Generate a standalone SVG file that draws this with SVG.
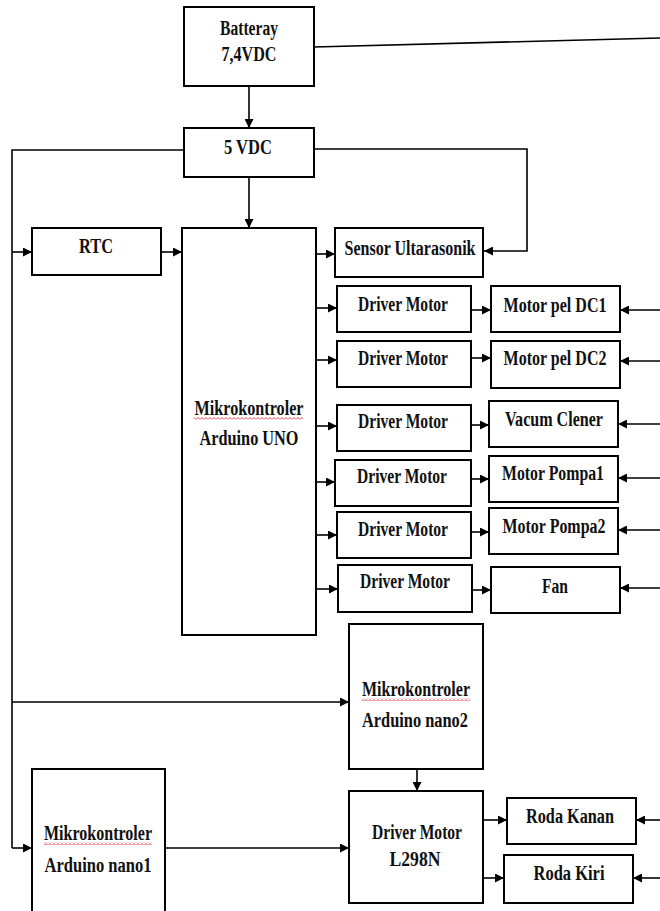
<svg xmlns="http://www.w3.org/2000/svg" width="660" height="911" viewBox="0 0 660 911">
<style>
.box{fill:#fff;stroke:#000;stroke-width:2}
.t{font-family:"Liberation Serif","Times New Roman",serif;font-weight:bold;font-size:20px;fill:#111;text-anchor:middle}
.c{fill:none;stroke:#000;stroke-width:1.6}
.a{fill:none;stroke:#000;stroke-width:1.6;marker-end:url(#ah)}
.wv{fill:url(#wave)}
</style>
<defs>
<marker id="ah" markerUnits="userSpaceOnUse" markerWidth="9" markerHeight="9" refX="9" refY="4.5" orient="auto">
<path d="M0,0 L9,4.5 L0,9 z" fill="#000"/>
</marker>
<pattern id="wave" patternUnits="userSpaceOnUse" width="4" height="3">
<path d="M0,2.5 L2,0.5 L4,2.5" fill="none" stroke="#e02020" stroke-width="0.9"/>
</pattern>
</defs>
<rect width="660" height="911" fill="#fff"/>
<g id="connectors">
<path class="c" d="M314,47 L660,38"/>
<path class="a" d="M249,86 L249,128"/>
<path class="a" d="M249,177 L249,228"/>
<path class="c" d="M184,150 L12,150 L12,848"/>
<path class="a" d="M314,149 L527,149 L527,251 L484,251"/>
<path class="a" d="M12,252 L32,252"/>
<path class="a" d="M161,252 L182,252"/>
<path class="a" d="M316,254 L335,254"/>
<path class="a" d="M316,308 L337,308"/>
<path class="a" d="M316,360 L337,360"/>
<path class="a" d="M316,426 L337,426"/>
<path class="a" d="M316,482 L335,482"/>
<path class="a" d="M316,535 L337,535"/>
<path class="a" d="M316,589 L338,589"/>
<path class="a" d="M471,310 L491,310"/>
<path class="a" d="M471,358 L491,358"/>
<path class="a" d="M471,425 L489,425"/>
<path class="a" d="M471,479 L489,479"/>
<path class="a" d="M471,532 L489,532"/>
<path class="a" d="M472,590 L491,590"/>
<path class="a" d="M660,310 L620,310"/>
<path class="a" d="M660,361 L620,361"/>
<path class="a" d="M660,424 L618,424"/>
<path class="a" d="M660,478 L618,478"/>
<path class="a" d="M660,530 L618,530"/>
<path class="a" d="M660,588 L620,588"/>
<path class="a" d="M12,702 L349,702"/>
<path class="a" d="M12,848 L32,848"/>
<path class="a" d="M165,848 L349,848"/>
<path class="a" d="M417,769 L417,791"/>
<path class="a" d="M483,820 L507,820"/>
<path class="a" d="M483,878 L504,878"/>
<path class="a" d="M660,820 L636,820"/>
<path class="a" d="M660,878 L633,878"/>
</g>
<g id="batteray"><rect class="box" x="184" y="7" width="130" height="79"/>
<text class="t" x="249" y="35" textLength="58" lengthAdjust="spacingAndGlyphs">Batteray</text>
<text class="t" x="249" y="61" textLength="55" lengthAdjust="spacingAndGlyphs">7,4VDC</text></g>
<g id="vdc5"><rect class="box" x="184" y="128" width="130" height="49"/>
<text class="t" x="248" y="154" textLength="48" lengthAdjust="spacingAndGlyphs">5 VDC</text></g>
<g id="rtc"><rect class="box" x="32" y="228" width="129" height="47"/>
<text class="t" x="96" y="253" textLength="34" lengthAdjust="spacingAndGlyphs">RTC</text></g>
<g id="uno"><rect class="box" x="182" y="228" width="134" height="407"/>
<text class="t" x="249" y="415" textLength="109" lengthAdjust="spacingAndGlyphs">Mikrokontroler</text>
<rect class="wv" x="194" y="417" width="109" height="3"/>
<text class="t" x="249" y="445" textLength="99" lengthAdjust="spacingAndGlyphs">Arduino UNO</text></g>
<g id="sensor"><rect class="box" x="335" y="228" width="148" height="49"/>
<text class="t" x="410" y="255" textLength="131" lengthAdjust="spacingAndGlyphs">Sensor Ultarasonik</text></g>
<g id="drv1"><rect class="box" x="337" y="286" width="134" height="46"/>
<text class="t" x="403" y="311" textLength="90" lengthAdjust="spacingAndGlyphs">Driver Motor</text></g>
<g id="drv2"><rect class="box" x="337" y="341" width="134" height="46"/>
<text class="t" x="403" y="365" textLength="90" lengthAdjust="spacingAndGlyphs">Driver Motor</text></g>
<g id="drv3"><rect class="box" x="337" y="405" width="134" height="46"/>
<text class="t" x="403" y="428" textLength="90" lengthAdjust="spacingAndGlyphs">Driver Motor</text></g>
<g id="drv4"><rect class="box" x="335" y="460" width="136" height="46"/>
<text class="t" x="402" y="483" textLength="90" lengthAdjust="spacingAndGlyphs">Driver Motor</text></g>
<g id="drv5"><rect class="box" x="337" y="512" width="134" height="46"/>
<text class="t" x="403" y="536" textLength="90" lengthAdjust="spacingAndGlyphs">Driver Motor</text></g>
<g id="drv6"><rect class="box" x="338" y="565" width="134" height="47"/>
<text class="t" x="405" y="588" textLength="90" lengthAdjust="spacingAndGlyphs">Driver Motor</text></g>
<g id="dc1"><rect class="box" x="491" y="286" width="129" height="46"/>
<text class="t" x="555" y="312" textLength="103" lengthAdjust="spacingAndGlyphs">Motor pel DC1</text></g>
<g id="dc2"><rect class="box" x="491" y="341" width="129" height="47"/>
<text class="t" x="555" y="365" textLength="103" lengthAdjust="spacingAndGlyphs">Motor pel DC2</text></g>
<g id="vacum"><rect class="box" x="489" y="401" width="129" height="46"/>
<text class="t" x="554" y="426" textLength="98" lengthAdjust="spacingAndGlyphs">Vacum Clener</text></g>
<g id="pompa1"><rect class="box" x="489" y="456" width="129" height="46"/>
<text class="t" x="553" y="480" textLength="102" lengthAdjust="spacingAndGlyphs">Motor Pompa1</text></g>
<g id="pompa2"><rect class="box" x="489" y="508" width="129" height="46"/>
<text class="t" x="554" y="533" textLength="103" lengthAdjust="spacingAndGlyphs">Motor Pompa2</text></g>
<g id="fan"><rect class="box" x="491" y="567" width="129" height="46"/>
<text class="t" x="555" y="593" textLength="26" lengthAdjust="spacingAndGlyphs">Fan</text></g>
<g id="nano2"><rect class="box" x="349" y="624" width="134" height="145"/>
<text class="t" x="416" y="696" textLength="108" lengthAdjust="spacingAndGlyphs">Mikrokontroler</text>
<rect class="wv" x="362" y="698" width="108" height="3"/>
<text class="t" x="415" y="727" textLength="106" lengthAdjust="spacingAndGlyphs">Arduino nano2</text></g>
<g id="nano1"><rect class="box" x="32" y="769" width="133" height="160"/>
<text class="t" x="98" y="840" textLength="108" lengthAdjust="spacingAndGlyphs">Mikrokontroler</text>
<rect class="wv" x="44" y="842" width="108" height="3"/>
<text class="t" x="98" y="872" textLength="107" lengthAdjust="spacingAndGlyphs">Arduino nano1</text></g>
<g id="l298n"><rect class="box" x="349" y="791" width="134" height="112"/>
<text class="t" x="417" y="839" textLength="90" lengthAdjust="spacingAndGlyphs">Driver Motor</text>
<text class="t" x="415" y="866" textLength="51" lengthAdjust="spacingAndGlyphs">L298N</text></g>
<g id="kanan"><rect class="box" x="507" y="798" width="129" height="46"/>
<text class="t" x="570" y="823" textLength="88" lengthAdjust="spacingAndGlyphs">Roda Kanan</text></g>
<g id="kiri"><rect class="box" x="504" y="855" width="129" height="48"/>
<text class="t" x="569" y="880" textLength="71" lengthAdjust="spacingAndGlyphs">Roda Kiri</text></g>
</svg>
